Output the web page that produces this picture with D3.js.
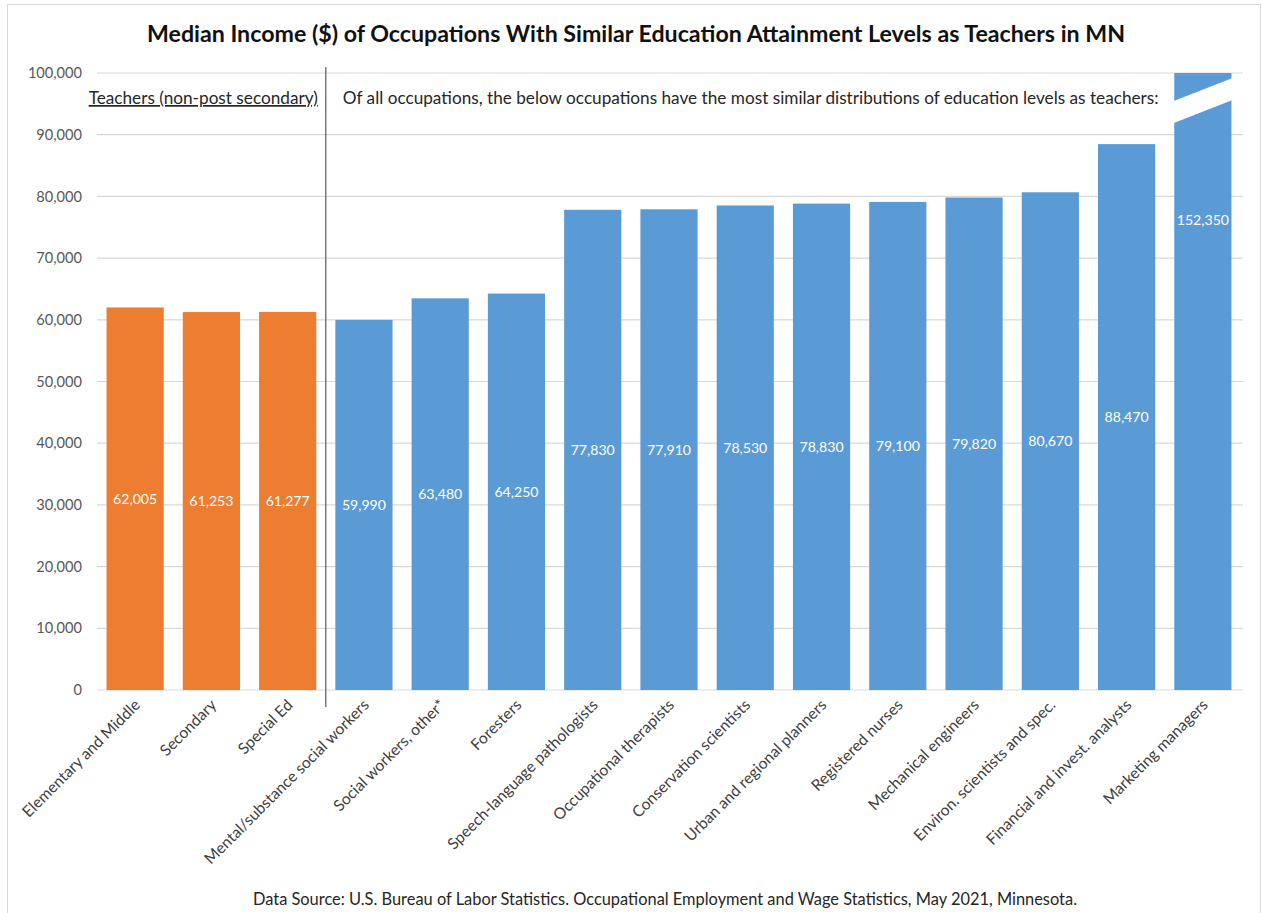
<!DOCTYPE html>
<html><head><meta charset="utf-8">
<script src="https://cdn.jsdelivr.net/npm/d3@7"></script>
<style>
body{margin:0;background:#fff;}
text{font-family:Lato,"Open Sans",sans-serif;}
</style></head>
<body><svg id="c" width="1262" height="913"></svg>
<script>
const categories = ["Elementary and Middle","Secondary","Special Ed","Mental/substance social workers","Social workers, other*","Foresters","Speech-language pathologists","Occupational therapists","Conservation scientists","Urban and regional planners","Registered nurses","Mechanical engineers","Environ. scientists and spec.","Financial and invest. analysts","Marketing managers"];
const values = [62005,61253,61277,59990,63480,64250,77830,77910,78530,78830,79100,79820,80670,88470,152350];
const groups = ["teacher","teacher","teacher","other","other","other","other","other","other","other","other","other","other","other","other"];
const yTicks = [0,10000,20000,30000,40000,50000,60000,70000,80000,90000,100000];
const yMax = 100000;
const title = "Median Income ($) of Occupations With Similar Education Attainment Levels as Teachers in MN";
const leftNote = "Teachers (non-post secondary)";
const rightNote = "Of all occupations, the below occupations have the most similar distributions of education levels as teachers:";
const source = "Data Source: U.S. Bureau of Labor Statistics. Occupational Employment and Wage Statistics, May 2021, Minnesota.";

const svg = d3.select("#c");
const colors = {teacher:"#ED7D31", other:"#5B9BD5"};
const x = d3.scaleBand().domain(categories).range([97,1241]).paddingInner(0.25).paddingOuter(0.125);
const y = d3.scaleLinear().domain([0,yMax]).range([690,73]);
const fmt = d3.format(",");

// frame
svg.append("rect").attr("x",7.5).attr("y",4.5).attr("width",1253).attr("height",920)
  .attr("fill","none").attr("stroke","#d9d9d9");

// grid
svg.append("g").selectAll("line").data(yTicks).join("line")
  .attr("x1",97).attr("x2",1243).attr("y1",d=>y(d)).attr("y2",d=>y(d))
  .attr("stroke","#d9d9d9").attr("stroke-width",1.2);

// y axis labels
svg.append("g").selectAll("text").data(yTicks).join("text")
  .attr("x",82).attr("y",d=>y(d)).attr("dy","0.35em").attr("text-anchor","end")
  .attr("fill","#595959").attr("font-size",14.6).text(d=>fmt(d));

// bars
const clipped = d => Math.min(d, yMax);
svg.append("g").selectAll("rect").data(categories).join("rect")
  .attr("x",d=>x(d)).attr("width",x.bandwidth())
  .attr("y",(d,i)=>y(clipped(values[i]))).attr("height",(d,i)=>y(0)-y(clipped(values[i])))
  .attr("fill",(d,i)=>colors[groups[i]]);

// axis break on clipped bar(s)
categories.forEach((c,i)=>{
  if(values[i] > yMax){
    const x0 = x(c)-5, x1 = x(c)+x.bandwidth()+5;
    const slope = -0.39;
    const ya = y(yMax)+27.7 - 5*slope;
    const pts = [[x0, ya],[x1, ya+slope*(x1-x0)],[x1, ya+slope*(x1-x0)+22],[x0, ya+22]];
    svg.append("polygon").attr("points",pts.map(p=>p.join(",")).join(" ")).attr("fill","#fff");
  }
});

// value labels
svg.append("g").selectAll("text").data(categories).join("text")
  .attr("x",d=>x(d)+x.bandwidth()/2).attr("y",(d,i)=>y(values[i]/2)).attr("dy","0.35em")
  .attr("text-anchor","middle").attr("fill","#fff").attr("font-size",14.1).text((d,i)=>fmt(values[i]));

// x labels
svg.append("g").selectAll("text").data(categories).join("text")
  .attr("text-anchor","end").attr("font-size",15.7).attr("fill","#404040")
  .attr("transform",d=>`translate(${x(d)+x.bandwidth()/2+6},${706}) rotate(-45)`)
  .text(d=>d);

// divider
const divX = x(categories[3]) - x.step()*x.paddingInner()/2;
svg.append("line").attr("x1",divX).attr("x2",divX).attr("y1",67).attr("y2",707)
  .attr("stroke","#595959").attr("stroke-width",1.2);

// notes
svg.append("text").attr("x",divX-8).attr("y",104).attr("text-anchor","end").attr("font-size",17.2)
  .attr("fill","#262626").attr("text-decoration","underline").text(leftNote);
svg.append("text").attr("x",divX+17).attr("y",104).attr("font-size",17.2)
  .attr("fill","#262626").text(rightNote);

// title
svg.append("text").attr("x",636).attr("y",42).attr("text-anchor","middle").attr("font-size",23.2)
  .attr("font-weight","bold").attr("fill","#111").text(title);

// source
svg.append("text").attr("x",665).attr("y",905).attr("text-anchor","middle").attr("font-size",16.4)
  .attr("fill","#262626").text(source);
</script></body></html>
